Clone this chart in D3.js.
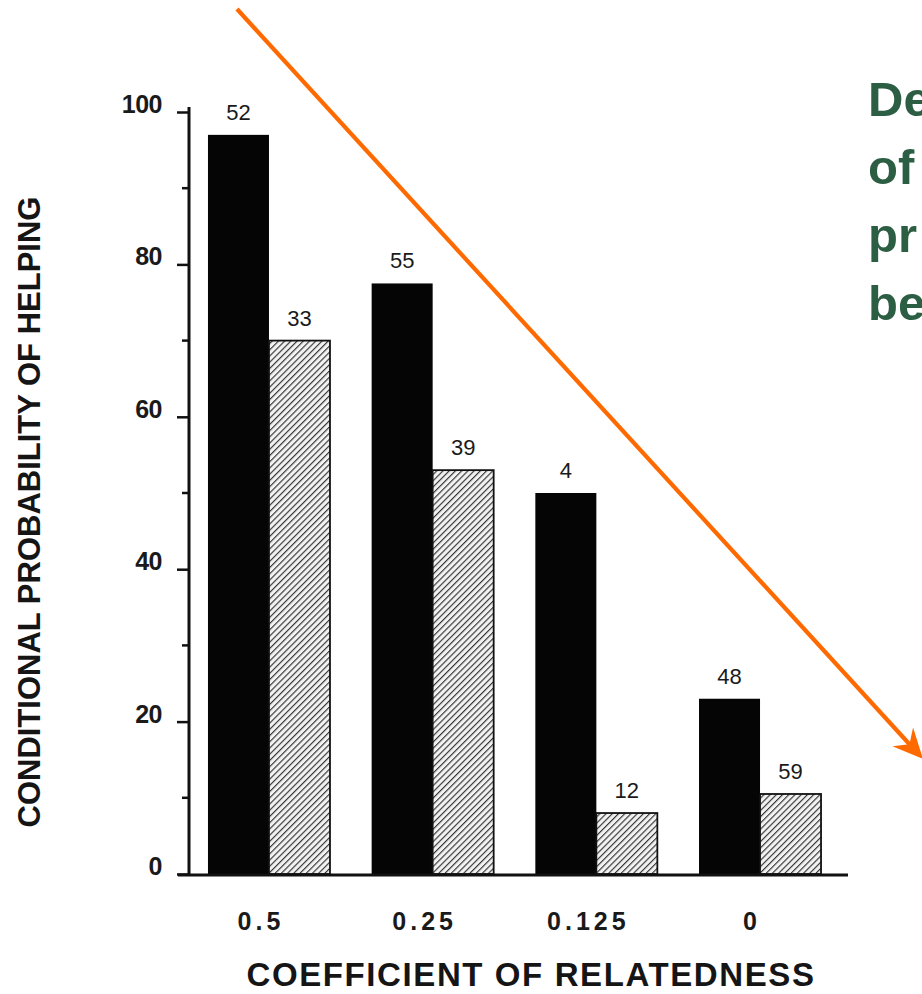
<!DOCTYPE html>
<html>
<head>
<meta charset="utf-8">
<script src="https://cdn.jsdelivr.net/npm/d3@7/dist/d3.min.js"></script>
<style>
  html, body { margin: 0; padding: 0; background: #fff; }
  svg { display: block; }
  text { font-family: "Liberation Sans", Arial, Helvetica, sans-serif; }
</style>
</head>
<body>
<svg id="chart" width="922" height="994"></svg>
<script>
// Coefficient of relatedness groups
const categories = ["0.5", "0.25", "0.125", "0"];
// Conditional probability of helping (%) — black bars and hatched bars
const solidValues = [97, 77.5, 50, 23];
const hatchedValues = [70, 53, 8, 10.5];
// Sample sizes printed above each bar
const solidCounts = [52, 55, 4, 48];
const hatchedCounts = [33, 39, 12, 59];
// Y axis ticks
const majorTicks = [0, 20, 40, 60, 80, 100];
const minorTicks = [10, 30, 50, 70, 90];
// Slide heading fragments at the right edge
const headingLines = ["De", "of", "pr", "be"];

const svg = d3.select("#chart");
svg.append("rect").attr("width", 922).attr("height", 994).attr("fill", "#fff");

const defs = svg.append("defs");
const pat = defs.append("pattern")
  .attr("id", "hatch")
  .attr("patternUnits", "userSpaceOnUse")
  .attr("width", 4.4).attr("height", 4.4)
  .attr("patternTransform", "rotate(45)");
pat.append("rect").attr("width", 4.4).attr("height", 4.4).attr("fill", "#f2f2f2");
pat.append("line")
  .attr("x1", 0).attr("y1", 0).attr("x2", 0).attr("y2", 4.4)
  .attr("stroke", "#333").attr("stroke-width", 2.3);

const y = d3.scaleLinear().domain([0, 100]).range([874, 112]);
const x = d3.scaleBand().domain(categories).range([188, 841])
  .paddingInner(0.2546).paddingOuter(0.122);
const sub = d3.scaleBand().domain(["solid", "hatched"]).range([0, x.bandwidth()]);

const rows = categories.map((c, i) => ({
  cat: c,
  bars: [
    { key: "solid", value: solidValues[i], n: solidCounts[i] },
    { key: "hatched", value: hatchedValues[i], n: hatchedCounts[i] }
  ]
}));

const g = svg.append("g");
const groups = g.selectAll("g.grp").data(rows).join("g")
  .attr("class", "grp")
  .attr("transform", d => `translate(${x(d.cat)},0)`);

groups.selectAll("rect").data(d => d.bars).join("rect")
  .attr("x", d => sub(d.key))
  .attr("y", d => y(d.value))
  .attr("width", sub.bandwidth())
  .attr("height", d => y(0) - y(d.value))
  .attr("fill", d => d.key === "solid" ? "#050505" : "url(#hatch)")
  .attr("stroke", "#111")
  .attr("stroke-width", d => d.key === "solid" ? 0 : 1.8);

groups.selectAll("text.n").data(d => d.bars).join("text")
  .attr("class", "n")
  .attr("x", d => sub(d.key) + sub.bandwidth() / 2)
  .attr("y", d => y(d.value) - 15)
  .attr("text-anchor", "middle")
  .attr("font-size", 22)
  .attr("fill", "#1a1a1a")
  .text(d => d.n);

// Y axis
const yAxis = d3.axisLeft(y).tickValues(majorTicks).tickSize(12).tickSizeOuter(0).tickPadding(15);
const yg = svg.append("g").attr("transform", "translate(189,0)").call(yAxis);
yg.select(".domain").attr("stroke", "#111").attr("stroke-width", 3).attr("d", `M0,${y(100) - 5}V${y(0) + 2}`);
yg.selectAll(".tick line").attr("stroke", "#111").attr("stroke-width", 2.5);
yg.selectAll(".tick text")
  .attr("font-size", 25).attr("font-weight", "bold").attr("fill", "#1a1a1a")
  .attr("letter-spacing", -0.5)
  .attr("dy", "0.02em");
yg.selectAll("line.minor").data(minorTicks).join("line")
  .attr("class", "minor")
  .attr("x1", -7).attr("x2", 0)
  .attr("y1", d => y(d)).attr("y2", d => y(d))
  .attr("stroke", "#111").attr("stroke-width", 2.5);

// X baseline and category labels
svg.append("line")
  .attr("x1", 178).attr("x2", 848).attr("y1", y(0) + 1).attr("y2", y(0) + 1)
  .attr("stroke", "#111").attr("stroke-width", 3);
const xAxis = d3.axisBottom(x).tickSize(0).tickPadding(0);
const xg = svg.append("g").attr("transform", `translate(0,${y(0)})`).call(xAxis);
xg.select(".domain").remove();
xg.selectAll(".tick text")
  .attr("y", 56).attr("dy", 0).attr("dx", -8)
  .attr("font-size", 25).attr("font-weight", "bold").attr("fill", "#1a1a1a")
  .attr("letter-spacing", 4);

// Axis titles
svg.append("text")
  .attr("x", 531).attr("y", 986)
  .attr("text-anchor", "middle")
  .attr("font-size", 33).attr("font-weight", "bold").attr("fill", "#151515")
  .attr("letter-spacing", 1.6)
  .text("COEFFICIENT OF RELATEDNESS");
svg.append("text")
  .attr("transform", "translate(40,512) rotate(-90)")
  .attr("text-anchor", "middle")
  .attr("font-size", 31).attr("font-weight", "bold").attr("fill", "#151515")
  .text("CONDITIONAL PROBABILITY OF HELPING");

// Heading fragments
svg.selectAll("text.head").data(headingLines).join("text")
  .attr("class", "head")
  .attr("x", 868)
  .attr("y", (d, i) => 116 + i * 68)
  .attr("font-size", 49).attr("font-weight", "bold").attr("fill", "#2c5e44")
  .text(d => d);

// Orange trend arrow
const start = [237, 9], tip = [923, 759];
const dx = tip[0] - start[0], dy = tip[1] - start[1];
const len = Math.hypot(dx, dy);
const ux = dx / len, uy = dy / len, px = uy, py = -ux;
const back = 30, half = 14, notch = 20;
svg.append("line")
  .attr("x1", start[0]).attr("y1", start[1])
  .attr("x2", tip[0] - ux * notch).attr("y2", tip[1] - uy * notch)
  .attr("stroke", "#ff6a00").attr("stroke-width", 4.2);
svg.append("path")
  .attr("d", d3.line()([
    tip,
    [tip[0] - ux * back + px * half, tip[1] - uy * back + py * half],
    [tip[0] - ux * notch, tip[1] - uy * notch],
    [tip[0] - ux * back - px * half, tip[1] - uy * back - py * half]
  ]) + "Z")
  .attr("fill", "#ff6a00");
</script>
</body>
</html>
